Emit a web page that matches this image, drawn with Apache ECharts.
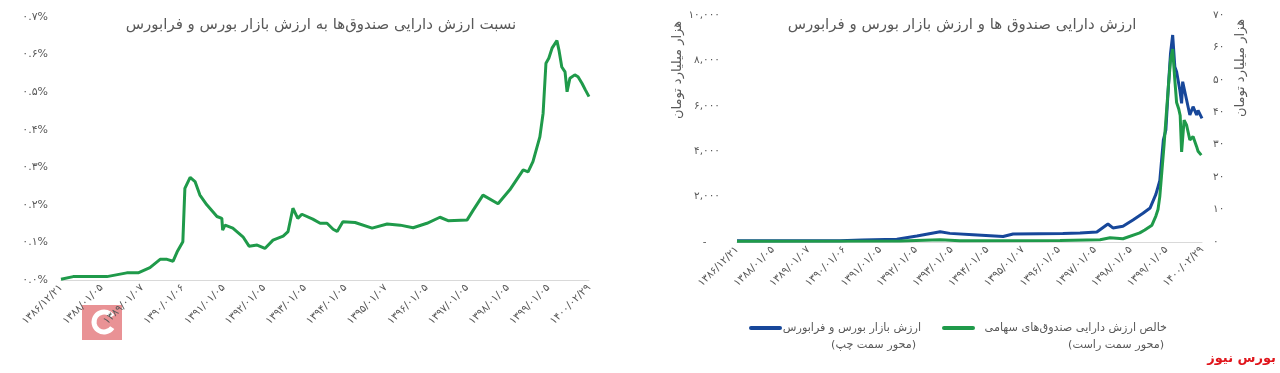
<!DOCTYPE html>
<html>
<head>
<meta charset="utf-8">
<script src="https://cdn.jsdelivr.net/npm/echarts@6/dist/echarts.min.js"></script>
<style>
html,body{margin:0;padding:0;background:#fff;}
#chart{width:1280px;height:373px;}
</style>
</head>
<body>
<div id="chart"></div>
<script>
// ---------- data ----------
const tickLabels = ['۱۳۸۶/۱۲/۲۱','۱۳۸۸/۰۱/۰۵','۱۳۸۹/۰۱/۰۷','۱۳۹۰/۰۱/۰۶','۱۳۹۱/۰۱/۰۵','۱۳۹۲/۰۱/۰۵','۱۳۹۳/۰۱/۰۵','۱۳۹۴/۰۱/۰۵','۱۳۹۵/۰۱/۰۷','۱۳۹۶/۰۱/۰۵','۱۳۹۷/۰۱/۰۵','۱۳۹۸/۰۱/۰۵','۱۳۹۹/۰۱/۰۵','۱۴۰۰/۰۲/۲۹'];

// left chart: ratio of funds' assets to market value (%), x in tick-interval units
const ratioX = [0,0.30,1.13,1.62,1.90,2.19,2.44,2.61,2.76,2.86,3.00,3.05,3.18,3.30,3.42,3.59,3.84,3.96,3.98,4.04,4.23,4.48,4.63,4.83,5.02,5.22,5.47,5.59,5.71,5.83,5.93,6.20,6.38,6.55,6.70,6.80,6.94,7.24,7.66,8.03,8.35,8.67,9.01,9.33,9.53,10.00,10.15,10.39,10.76,11.05,11.38,11.50,11.62,11.79,11.87,11.94,12.01,12.09,12.21,12.26,12.33,12.41,12.46,12.53,12.65,12.73,12.83,12.91,13.00];
const ratioPct = [0.002,0.009,0.009,0.019,0.019,0.033,0.055,0.055,0.050,0.075,0.102,0.244,0.273,0.262,0.226,0.200,0.169,0.164,0.133,0.146,0.138,0.115,0.090,0.093,0.084,0.106,0.117,0.129,0.191,0.164,0.175,0.162,0.151,0.151,0.135,0.129,0.155,0.153,0.138,0.149,0.146,0.139,0.151,0.167,0.158,0.160,0.186,0.226,0.203,0.240,0.293,0.288,0.315,0.381,0.444,0.577,0.590,0.617,0.637,0.612,0.567,0.554,0.501,0.537,0.546,0.541,0.523,0.506,0.488];

// right chart: market value (left axis, thousand billion toman)
const mktX = [0,2.88,3.50,4.47,5.03,5.68,5.95,6.60,7.44,7.72,8.47,9.11,9.59,10.06,10.37,10.51,10.79,11.07,11.35,11.55,11.71,11.82,11.92,11.99,12.06,12.12,12.18,12.24,12.29,12.38,12.43,12.46,12.57,12.66,12.75,12.85,12.89,13.00];
const mktVal = [60,60,90,120,265,454,380,320,240,350,360,370,400,440,793,620,690,969,1264,1500,2100,2700,4500,4934,6843,8311,9119,7722,7502,6696,6108,7062,6255,5595,5960,5595,5800,5448];

// right chart: net asset value of equity funds (right axis, thousand billion toman)
const fundX = [0,4.56,5.68,6.23,9.03,10.15,10.43,10.79,11.26,11.40,11.60,11.71,11.77,11.82,11.88,11.94,11.99,12.06,12.12,12.18,12.24,12.29,12.35,12.39,12.43,12.50,12.57,12.66,12.75,12.80,12.85,12.89,12.98];
const fundVal = [0.2,0.3,0.7,0.4,0.5,0.7,1.3,1.0,2.8,3.7,5.2,8,10,14,22,30,37.6,47.9,56,59.5,50,43,41,39,27.8,37.6,36,31.5,32.5,32,29.4,28,26.8];

const leftTitle = 'نسبت ارزش دارایی صندوق‌ها به ارزش بازار بورس و فرابورس';
const rightTitle = 'ارزش دارایی صندوق ها و ارزش بازار بورس و فرابورس';
const axisUnit = 'هزار میلیارد تومان';
const mktName = 'ارزش بازار بورس و فرابورس';
const mktNote = '(محور سمت چپ)';
const fundName = 'خالص ارزش دارایی صندوق‌های سهامی';
const fundNote = '(محور سمت راست)';
const brand = 'بورس نیوز';

// ---------- helpers ----------
const FONT = "'DejaVu Sans', sans-serif";
const GREY = '#595959';
const GREEN = '#1f9a4a';
const BLUE = '#17479a';
const toFa = s => String(s).replace(/\d/g, d => '۰۱۲۳۴۵۶۷۸۹'[d]);
const zip = (xs, ys) => xs.map((x, i) => [x, ys[i]]);

const xAxisBase = (gridIndex) => ({
  type: 'value', gridIndex, min: 0, max: 13, interval: 1,
  axisLine: {show: true, lineStyle: {color: '#d9d9d9', width: 1}},
  axisTick: {show: false}, splitLine: {show: false},
  axisLabel: {rotate: 45, margin: 6, fontSize: 10.5, color: GREY, fontFamily: FONT,
    formatter: v => tickLabels[Math.round(v)] || ''}
});

const txt = (x, y, text, size, extra) => Object.assign({type: 'text', x, y,
  style: {text, fontSize: size, fontFamily: FONT, fill: GREY, align: 'right', verticalAlign: 'middle', textAlign: 'right', textVerticalAlign: 'middle'}}, extra || {});

const chart = echarts.init(document.getElementById('chart'), null, {renderer: 'canvas'});
chart.setOption({
  animation: false,
  backgroundColor: '#fff',
  title: [
    {text: leftTitle, left: 316, top: 13, textAlign: 'center',
     textStyle: {fontSize: 15, fontWeight: 'normal', color: GREY, fontFamily: FONT}},
    {text: rightTitle, left: 957, top: 13, textAlign: 'center',
     textStyle: {fontSize: 15, fontWeight: 'normal', color: GREY, fontFamily: FONT}}
  ],
  grid: [
    {left: 61, right: 691, top: 17, bottom: 93},
    {left: 737, right: 78, top: 15, bottom: 131}
  ],
  xAxis: [xAxisBase(0), xAxisBase(1)],
  yAxis: [
    {type: 'value', gridIndex: 0, min: 0, max: 0.7, interval: 0.1,
     axisLine: {show: false}, axisTick: {show: false}, splitLine: {show: false},
     axisLabel: {margin: 13, fontSize: 11, color: GREY, fontFamily: FONT,
       formatter: v => toFa(v.toFixed(1)) + '%'}},
    {type: 'value', gridIndex: 1, min: 0, max: 10000, interval: 2000, position: 'left',
     axisLine: {show: false}, axisTick: {show: false}, splitLine: {show: false},
     axisLabel: {margin: 17, fontSize: 10.5, color: GREY, fontFamily: FONT,
       formatter: v => v === 0 ? '-    ' : toFa(v.toLocaleString('en-US'))}},
    {type: 'value', gridIndex: 1, min: 0, max: 70, interval: 10, position: 'right',
     axisLine: {show: false}, axisTick: {show: false}, splitLine: {show: false},
     axisLabel: {margin: 11, fontSize: 10.5, color: GREY, fontFamily: FONT,
       formatter: v => toFa(v)}}
  ],
  series: [
    {type: 'line', name: leftTitle, xAxisIndex: 0, yAxisIndex: 0, data: zip(ratioX, ratioPct),
     showSymbol: false, lineStyle: {color: GREEN, width: 3}, itemStyle: {color: GREEN}},
    {type: 'line', name: mktName, xAxisIndex: 1, yAxisIndex: 1, data: zip(mktX, mktVal),
     showSymbol: false, lineStyle: {color: BLUE, width: 3}, itemStyle: {color: BLUE}},
    {type: 'line', name: fundName, xAxisIndex: 1, yAxisIndex: 2, data: zip(fundX, fundVal),
     showSymbol: false, lineStyle: {color: GREEN, width: 3}, itemStyle: {color: GREEN}}
  ],
  graphic: [
    // axis names
    {type: 'text', x: 678, y: 70, rotation: Math.PI / 2,
     style: {text: axisUnit, fontSize: 13, fontFamily: FONT, fill: GREY, align: 'center', verticalAlign: 'middle', textAlign: 'center', textVerticalAlign: 'middle'}},
    {type: 'text', x: 1241, y: 68, rotation: Math.PI / 2,
     style: {text: axisUnit, fontSize: 13, fontFamily: FONT, fill: GREY, align: 'center', verticalAlign: 'middle', textAlign: 'center', textVerticalAlign: 'middle'}},
    // legend
    {type: 'line', shape: {x1: 751, y1: 328, x2: 780, y2: 328}, style: {stroke: BLUE, lineWidth: 4, lineCap: 'round'}},
    txt(921, 328, mktName, 11.2),
    txt(916, 345, mktNote, 11.2),
    {type: 'line', shape: {x1: 944, y1: 328, x2: 973, y2: 328}, style: {stroke: GREEN, lineWidth: 4, lineCap: 'round'}},
    txt(1167, 328, fundName, 11.2),
    txt(1164, 345, fundNote, 11.2),
    // brand
    {type: 'text', x: 1276, y: 359, style: {text: brand, fontSize: 13, fontWeight: 'bold', fontFamily: FONT, fill: '#e0161c', align: 'right', verticalAlign: 'middle', textAlign: 'right', textVerticalAlign: 'middle'}},
    // watermark logo (approx.)
    {type: 'rect', shape: {x: 82, y: 305, width: 40, height: 35}, style: {fill: '#e57f82', opacity: 0.85}},
    {type: 'arc', shape: {cx: 104, cy: 322, r: 10, startAngle: 0.6, endAngle: 5.7}, style: {stroke: '#fff', lineWidth: 5, fill: null}}
  ]
});
</script>
</body>
</html>
